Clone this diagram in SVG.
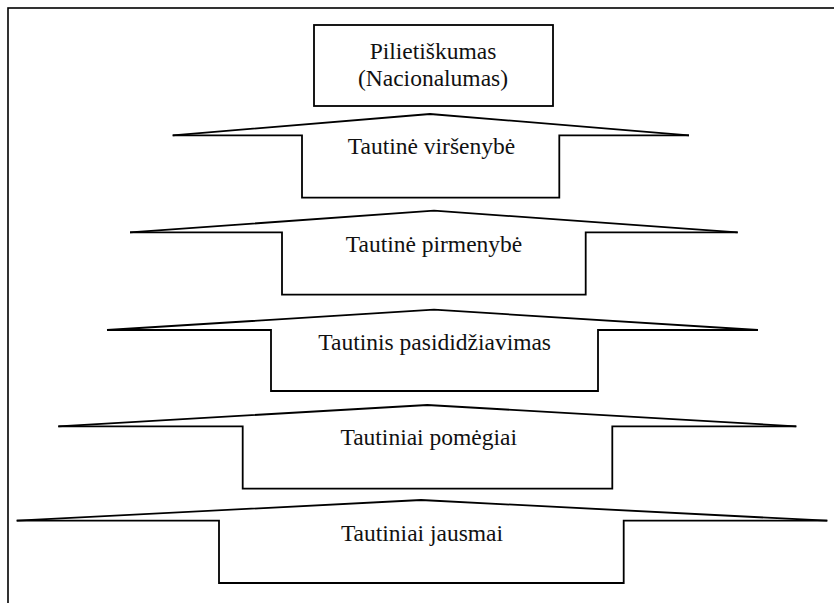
<svg xmlns="http://www.w3.org/2000/svg" width="834" height="603" viewBox="0 0 834 603">
  <style>
    .frame { fill: none; stroke: #000; stroke-width: 1.6; }
    .shape { fill: none; stroke: #000; stroke-width: 1.8; stroke-linejoin: miter; }
    .label { font-family: "Liberation Serif", "Times New Roman", serif; font-size: 23.5px; fill: #111; text-anchor: middle; }
  </style>
  <rect width="834" height="603" fill="#fff"/>
  <!-- page frame (open on the right and bottom edges) -->
  <rect class="frame" x="8" y="8" width="840" height="610"/>

  <g id="pilietiskumas">
    <rect class="shape" x="314" y="25" width="239" height="81"/>
    <text class="label" x="433" y="59">Pilietiškumas</text>
    <text class="label" x="433" y="86">(Nacionalumas)</text>
  </g>

  <g id="tautine-virsenybe">
    <path class="shape" d="M172.7,135.3 L430,114 L689,135.3"/>
    <path class="shape" d="M172.7,135.3 H302 V197.7 H559.3 V135.3 H689"/>
    <text class="label" x="431.5" y="154">Tautinė viršenybė</text>
  </g>

  <g id="tautine-pirmenybe">
    <path class="shape" d="M130,232.3 L434,210.7 L737.7,232.3"/>
    <path class="shape" d="M130,232.3 H282 V294.7 H585.7 V232.3 H737.7"/>
    <text class="label" x="434" y="251.7">Tautinė pirmenybė</text>
  </g>

  <g id="tautinis-pasididziavimas">
    <path class="shape" d="M107,330 L434,309.7 L758,330"/>
    <path class="shape" d="M107,330 H271 V391 H598 V330 H758"/>
    <text class="label" x="434.7" y="350">Tautinis pasididžiavimas</text>
  </g>

  <g id="tautiniai-pomegiai">
    <path class="shape" d="M58.3,426.3 L427.3,405 L796.3,426.3"/>
    <path class="shape" d="M58.3,426.3 H242.7 V488.7 H612.3 V426.3 H796.3"/>
    <text class="label" x="428.7" y="445">Tautiniai pomėgiai</text>
  </g>

  <g id="tautiniai-jausmai">
    <path class="shape" d="M16.7,520.7 L421,500 L827.3,520.7"/>
    <path class="shape" d="M16.7,520.7 H219 V583 H623.7 V520.7 H827.3"/>
    <text class="label" x="422" y="541">Tautiniai jausmai</text>
  </g>
</svg>
